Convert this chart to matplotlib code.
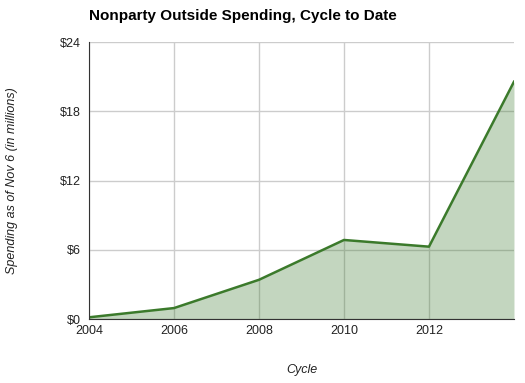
import matplotlib.pyplot as plt
import numpy as np

cycles = [2004, 2006, 2008, 2010, 2012, 2014]
spending = [0.15, 0.95, 3.4, 6.85, 6.27, 20.56]
yticks = [0, 6, 12, 18, 24]
xticks = [2004, 2006, 2008, 2010, 2012]

plt.rcParams['font.family'] = ['Liberation Sans', 'DejaVu Sans']

fig = plt.figure(figsize=(5.25, 3.83), dpi=100)
ax = fig.add_axes([0.1695, 0.167, 0.8095, 0.7233])

line_color = '#3b7a2b'
ax.fill_between(cycles, spending, 0, color=line_color, alpha=0.3, lw=0, zorder=2)
ax.plot(cycles, spending, color=line_color, lw=1.8, zorder=3)

ax.set_xlim(2004, 2014)
ax.set_ylim(0, 24)
ax.set_xticks(xticks)
ax.set_yticks(yticks)
ax.set_yticklabels(['$%d' % v for v in yticks])
ax.grid(True, color='#cccccc', lw=1, zorder=1)
ax.set_axisbelow(True)
ax.tick_params(length=0, labelsize=9, colors='#222222', pad=6)
ax.tick_params(axis='x', pad=4)

for s in ['top', 'right']:
    ax.spines[s].set_visible(False)
for s in ['left', 'bottom']:
    ax.spines[s].set_color('#333333')
    ax.spines[s].set_zorder(4)

ax.set_xlabel('Cycle', style='italic', fontsize=9, color='#222222', labelpad=20)
ax.set_ylabel('Spending as of Nov 6 (in millions)', style='italic', fontsize=9,
              color='#222222', labelpad=30)
ax.set_title('Nonparty Outside Spending, Cycle to Date', loc='left', fontsize=11,
             fontweight='bold', color='#000000', pad=16)

fig.savefig('out.png', dpi=100)
